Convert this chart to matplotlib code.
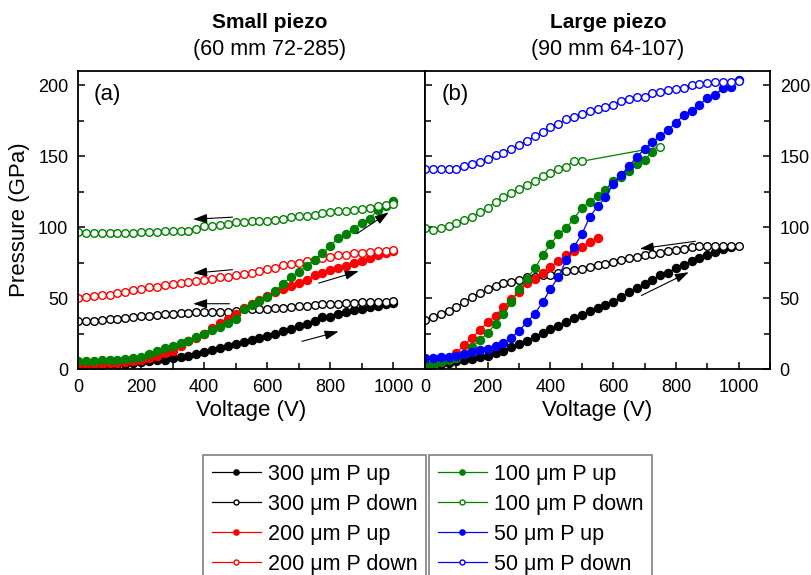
import matplotlib as mpl
mpl.use('Agg')
import matplotlib.pyplot as plt
from matplotlib.ticker import MultipleLocator

plt.rcParams['font.family'] = ['Liberation Sans', 'DejaVu Sans']

# voltage grid (25 V steps)
volt = [0, 25, 50, 75, 100, 125, 150, 175, 200, 225, 250, 275, 300, 325, 350,
        375, 400, 425, 450, 475, 500, 525, 550, 575, 600, 625, 650, 675, 700,
        725, 750, 775, 800, 825, 850, 875, 900, 925, 950, 975, 1000]

# ---- (a) small piezo ----
a_300_up = [3, 3, 3, 3, 3.2, 3.5, 3.8, 4.2, 5, 5.5, 6, 6.5, 7.5, 8.5, 9.5, 10.5, 12,
            13.5, 15, 16, 17.5, 19, 20.5, 22, 23.5, 25, 27, 28.5, 30, 31.5, 34, 36.5,
            36.5, 38.5, 40, 41.5, 42.5, 43.5, 44.5, 45.5, 46.5]
a_300_down = [34, 34, 34, 34.5, 35, 35.5, 36, 36.5, 37, 37.5, 38, 38.5, 39, 39.5, 39.5,
              40, 40, 40.5, 40.5, 40.5, 41, 42, 42, 42.5, 42.5, 43, 43, 44, 44.5, 44.5,
              45, 45.5, 46, 46, 46.5, 46.5, 47, 47, 47, 47.5, 48]
a_200_up = [3.5, 3.5, 3.7, 3.8, 4, 4.5, 5, 5.5, 6.5, 8, 9.5, 11, 13, 16, 19.5, 22, 25,
            29, 32.5, 35.5, 39, 43, 46, 48.5, 51.5, 54, 56.5, 58.5, 60.5, 63, 66, 67.5,
            69.5, 71, 72.5, 74.5, 76, 78, 80, 82, 83.5]
a_200_down = [50, 51, 51.5, 52, 52.5, 53.5, 54.5, 55.5, 56.5, 57.5, 58, 59, 60, 60.5, 61,
              62, 63, 63.5, 64.5, 65, 66, 67, 68, 69, 70.5, 71.5, 73, 74, 75, 76, 77, 78,
              79, 80, 80.5, 81.5, 82, 82.5, 83, 83.5, 84]
a_100_up = [5.5, 5.5, 5.5, 6, 6, 6.5, 7, 7.5, 8.5, 10.5, 13, 15, 16.5, 18, 20, 22.5, 25,
            27.5, 29.5, 32.5, 35.5, 42, 45, 48, 51, 55, 60, 65, 68.5, 72.5, 77, 81.5,
            86.5, 92.5, 95, 99, 103, 106, 112, 115, 118.5]
a_100_down = [96.5, 96, 96, 96, 96, 96, 96, 96, 96.5, 96.5, 96.5, 97, 97, 97.5, 97.5, 99,
              100.5, 101, 101.5, 102.5, 103.5, 103.5, 104, 104.5, 104.5, 105, 106, 107,
              107.5, 108, 108.5, 110, 110.5, 111, 111.5, 112, 113, 113.5, 115, 115.5, 116]

# ---- (b) large piezo ----
b_300_up = [2.8, 3.5, 3.5, 4, 5.9, 6.4, 7, 8.2, 9.4, 11, 13, 15.3, 17.6, 20, 22.8, 25.4,
            28, 30.6, 33, 35.8, 38.4, 41, 43, 45, 47, 51, 54, 57, 60, 62.8, 66, 68, 71,
            73, 76, 78, 80, 82.4, 84.7, 86]
b_300_down = [34.6, 36.5, 38.8, 41, 44, 47, 50.6, 53.4, 56.5, 58.8, 60.5, 61, 62.4, 64.7,
              65, 66, 66.4, 67.5, 69.4, 70, 70.6, 71.8, 73, 74, 75.3, 77, 78.4, 78.8, 80,
              81, 82, 83, 84, 84.7, 86, 86.4, 87, 87, 87, 87, 87]
b_200_up = [1, 3.5, 4.7, 7, 11, 17, 22, 27.5, 33, 37.6, 43.5, 49.4, 54.6, 60.7, 63.5, 68,
            71.8, 76, 80, 83.5, 86, 89.4, 92.2]
b_100_up = [2.4, 3.5, 4.7, 6, 7.5, 10.6, 15.8, 20.5, 25.4, 32, 38.8, 47, 56.5, 63.5, 71,
            80, 88, 95, 99.3, 106, 113.6, 117.6, 122, 126, 132.5, 135, 139.5, 144.7,
            147.5, 153]
b_100_down_v = volt[:21] + [750]
b_100_down = [99.3, 98, 99.3, 101, 103, 104.7, 107, 110.6, 113.6, 117.6, 121, 124, 127,
              130, 132.5, 136, 138.4, 141, 142.4, 146.8, 146.4, 156.5]
b_50_up = [7.5, 8, 8.2, 8.7, 9.4, 10.6, 11.8, 13.4, 14, 16.5, 18, 22, 27, 33, 39, 47,
           56.5, 64.7, 76.5, 86, 95, 107, 114.6, 121, 130.6, 136.5, 143, 149.4, 155, 160,
           164, 168.7, 173.4, 179, 181.6, 186, 191, 193, 198, 199, 204]
b_50_down = [141, 141, 141, 141, 141, 143, 144.5, 146, 148, 150.5, 152.5, 155, 158, 161,
             164, 167, 170.5, 173, 176, 177.5, 179.5, 181.5, 183.5, 184.5, 186, 189, 190,
             191.5, 192, 194.5, 195.5, 196.5, 197, 198, 200, 201, 201.5, 202, 202, 202.5, 203]

# sweep-direction arrows (tail, head) in data units
arrows_a = [((490, 107), (365, 105.5)), ((490, 70), (365, 67.5)), ((480, 46), (365, 46)),
            ((884, 95.3), (985, 110.4)), ((763, 60.5), (890, 69)), ((710, 19.5), (826, 26.4))]
arrows_b = [((862, 90), (685, 84.7)), ((690, 51.8), (841, 68.2))]

GREEN = '#008000'

fig = plt.figure(figsize=(8.12, 5.75), dpi=100)
ax1 = fig.add_axes([78/812, 1-369/575, 347/812, 298/575])
ax2 = fig.add_axes([425/812, 1-369/575, 345/812, 298/575])


def up(ax, x, y, c, label):
    return ax.plot(x, y, '-o', color=c, lw=0.9, ms=5.8, mfc=c, mec=c, mew=1, label=label)[0]


def down(ax, x, y, c, label):
    return ax.plot(x, y, '-o', color=c, lw=0.9, ms=5.5, mfc='white', mec=c, mew=1, label=label)[0]


h = []
h.append(up(ax1, volt, a_300_up, 'black', '300 \u03bcm P up'))
h.append(down(ax1, volt, a_300_down, 'black', '300 \u03bcm P down'))
h.append(up(ax1, volt, a_200_up, 'red', '200 \u03bcm P up'))
h.append(down(ax1, volt, a_200_down, 'red', '200 \u03bcm P down'))
h.append(up(ax1, volt, a_100_up, GREEN, '100 \u03bcm P up'))
h.append(down(ax1, volt, a_100_down, GREEN, '100 \u03bcm P down'))

up(ax2, volt[:40], b_300_up, 'black', None)
down(ax2, volt, b_300_down, 'black', None)
up(ax2, volt[:23], b_200_up, 'red', None)
up(ax2, volt[:30], b_100_up, GREEN, None)
down(ax2, b_100_down_v, b_100_down, GREEN, None)
h.append(up(ax2, volt, b_50_up, 'blue', '50 \u03bcm P up'))
h.append(down(ax2, volt, b_50_down, 'blue', '50 \u03bcm P down'))

for ax, arrows in ((ax1, arrows_a), (ax2, arrows_b)):
    for tail, head in arrows:
        ax.annotate('', xy=head, xytext=tail,
                    arrowprops=dict(arrowstyle='-|>,head_length=0.6,head_width=0.2',
                                    color='black', lw=0.8,
                                    mutation_scale=14, shrinkA=0, shrinkB=0))

for ax in (ax1, ax2):
    ax.set_xlim(0, 1100)
    ax.set_ylim(0, 210)
    ax.xaxis.set_major_locator(MultipleLocator(200))
    ax.xaxis.set_minor_locator(MultipleLocator(100))
    ax.yaxis.set_major_locator(MultipleLocator(50))
    ax.yaxis.set_minor_locator(MultipleLocator(25))
    ax.tick_params(which='both', direction='in', labelsize=13, width=1.1, pad=7)
    ax.tick_params(which='major', length=5)
    ax.tick_params(which='minor', length=4)
    for s in ax.spines.values():
        s.set_linewidth(1.3)
    ax.set_xlabel('Voltage (V)', fontsize=16, labelpad=3)

ax1.set_xticks([0, 200, 400, 600, 800, 1000])
ax2.set_xticks([0, 200, 400, 600, 800, 1000])
ax1.tick_params(which='both', top=False, right=False)
ax2.tick_params(which='both', top=False, left=True, right=True, labelleft=False, labelright=True)
ax1.set_ylabel('Pressure (GPa)', fontsize=16, labelpad=6)

ax1.text(0.045, 0.955, '(a)', transform=ax1.transAxes, fontsize=16, va='top')
ax2.text(0.048, 0.955, '(b)', transform=ax2.transAxes, fontsize=16, va='top')

fig.text(270/812, 1-23/575, 'Small piezo', ha='center', va='center', fontsize=15, fontweight='bold')
fig.text(270/812, 1-50/575, '(60 mm 72-285)', ha='center', va='center', fontsize=15.5)
fig.text(608/812, 1-23/575, 'Large piezo', ha='center', va='center', fontsize=15, fontweight='bold')
fig.text(608/812, 1-50/575, '(90 mm 64-107)', ha='center', va='center', fontsize=15.5)

leg_kw = dict(loc='upper left', fontsize=15.5, frameon=True, fancybox=False, framealpha=1,
              edgecolor='#808080', handlelength=2.3, handletextpad=0.3, labelspacing=0.42,
              borderpad=0.4, markerscale=0.65, borderaxespad=0)
leg1 = fig.legend(handles=h[:4], bbox_to_anchor=(203/812, 1-455/575), **leg_kw)
leg2 = fig.legend(handles=h[4:], bbox_to_anchor=(429/812, 1-455/575), **leg_kw)
for lg in (leg1, leg2):
    lg.get_frame().set_linewidth(1.2)

plt.savefig('out.png', dpi=100)
